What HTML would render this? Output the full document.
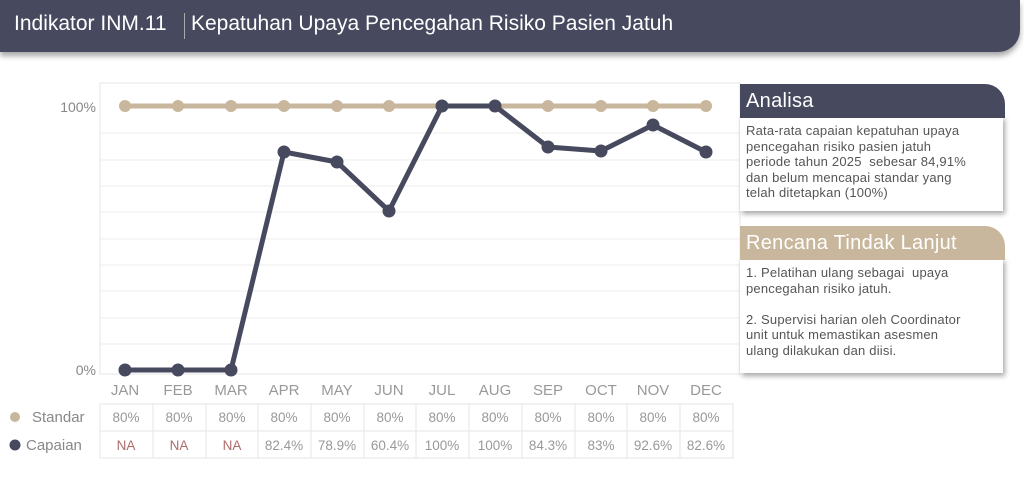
<!DOCTYPE html>
<html><head><meta charset="utf-8"><style>
body{margin:0;width:1024px;height:480px;background:#fff;position:relative;overflow:hidden;font-family:"Liberation Sans",sans-serif}
.hdr{position:absolute;left:0;top:0;width:1020px;height:52px;background:#474a5f;border-bottom-right-radius:22px;box-shadow:0 4px 6px rgba(0,0,0,.35)}
.hdr span{position:absolute;top:12px;color:#fff;font-size:21px}
.ph{position:absolute;left:740px;width:265px;height:34px;border-top-right-radius:20px;color:#fff;font-size:20px;box-sizing:border-box;padding:6px 0 0 6px;letter-spacing:.3px}
.pb{position:absolute;left:740px;width:263px;background:#fff;box-shadow:2px 3px 5px rgba(0,0,0,.35);box-sizing:border-box;padding:7px 6px;font-size:13px;color:#555;line-height:15.5px;letter-spacing:.2px;white-space:nowrap}
</style></head><body>
<div class="hdr"><span style="left:14px">Indikator INM.11</span><div style="position:absolute;left:184px;top:13px;width:1px;height:26px;background:#aaa"></div><span style="left:191px">Kepatuhan Upaya Pencegahan Risiko Pasien Jatuh</span></div>
<svg width="1024" height="480" style="position:absolute;left:0;top:0">
<rect x="100" y="83" width="640" height="291" fill="#fff" stroke="#e4e4e4"/>
<g stroke="#ececec">
<line x1="100" y1="133" x2="740" y2="133"/><line x1="100" y1="160" x2="740" y2="160"/><line x1="100" y1="186" x2="740" y2="186"/><line x1="100" y1="212" x2="740" y2="212"/><line x1="100" y1="239" x2="740" y2="239"/><line x1="100" y1="265" x2="740" y2="265"/><line x1="100" y1="291" x2="740" y2="291"/><line x1="100" y1="318" x2="740" y2="318"/><line x1="100" y1="344" x2="740" y2="344"/>
</g>
<g font-size="14" fill="#888" text-anchor="end"><text x="96" y="112">100%</text><text x="96" y="375">0%</text></g>
<polyline points="125,106 706,106" stroke="#c8b79c" stroke-width="5" fill="none"/>
<g fill="#c8b79c"><circle cx="125" cy="106" r="6"/><circle cx="178" cy="106" r="6"/><circle cx="231" cy="106" r="6"/><circle cx="284" cy="106" r="6"/><circle cx="337" cy="106" r="6"/><circle cx="389" cy="106" r="6"/><circle cx="495" cy="106" r="6"/><circle cx="548" cy="106" r="6"/><circle cx="601" cy="106" r="6"/><circle cx="653" cy="106" r="6"/><circle cx="706" cy="106" r="6"/></g>
<polyline points="125,370 178,370 231,370 284,152 337,162 389,211 442,106 495,106 548,147 601,151 653,125 706,152" stroke="#474a5f" stroke-width="5" fill="none" stroke-linejoin="round"/>
<g fill="#474a5f"><circle cx="125" cy="370" r="6.5"/><circle cx="178" cy="370" r="6.5"/><circle cx="231" cy="370" r="6.5"/><circle cx="284" cy="152" r="6.5"/><circle cx="337" cy="162" r="6.5"/><circle cx="389" cy="211" r="6.5"/><circle cx="442" cy="106" r="6.5"/><circle cx="495" cy="106" r="6.5"/><circle cx="548" cy="147" r="6.5"/><circle cx="601" cy="151" r="6.5"/><circle cx="653" cy="125" r="6.5"/><circle cx="706" cy="152" r="6.5"/></g>
<g font-size="15" fill="#999" text-anchor="middle">
<text x="125" y="395">JAN</text><text x="178" y="395">FEB</text><text x="231" y="395">MAR</text><text x="284" y="395">APR</text><text x="337" y="395">MAY</text><text x="389" y="395">JUN</text><text x="442" y="395">JUL</text><text x="495" y="395">AUG</text><text x="548" y="395">SEP</text><text x="601" y="395">OCT</text><text x="653" y="395">NOV</text><text x="706" y="395">DEC</text>
</g>
<g stroke="#e6e6e6" fill="none"><rect x="100" y="404" width="633" height="54"/><line x1="100" y1="431" x2="733" y2="431"/>
<line x1="153" y1="404" x2="153" y2="458"/><line x1="206" y1="404" x2="206" y2="458"/><line x1="258" y1="404" x2="258" y2="458"/><line x1="311" y1="404" x2="311" y2="458"/><line x1="364" y1="404" x2="364" y2="458"/><line x1="416" y1="404" x2="416" y2="458"/><line x1="469" y1="404" x2="469" y2="458"/><line x1="522" y1="404" x2="522" y2="458"/><line x1="575" y1="404" x2="575" y2="458"/><line x1="627" y1="404" x2="627" y2="458"/><line x1="680" y1="404" x2="680" y2="458"/></g>
<circle cx="15" cy="417" r="5" fill="#c8b79c"/><circle cx="15" cy="445" r="5.5" fill="#474a5f"/>
<g font-size="15" fill="#888"><text x="32" y="422">Standar</text><text x="26" y="450">Capaian</text></g>
<g font-size="13.5" fill="#999" text-anchor="middle">
<text x="126" y="422">80%</text><text x="179" y="422">80%</text><text x="232" y="422">80%</text><text x="284" y="422">80%</text><text x="337" y="422">80%</text><text x="390" y="422">80%</text><text x="442" y="422">80%</text><text x="495" y="422">80%</text><text x="548" y="422">80%</text><text x="601" y="422">80%</text><text x="653" y="422">80%</text><text x="706" y="422">80%</text>
<g fill="#b06b6b"><text x="126" y="450">NA</text><text x="179" y="450">NA</text><text x="232" y="450">NA</text></g>
<text x="284" y="450">82.4%</text><text x="337" y="450">78.9%</text><text x="390" y="450">60.4%</text><text x="442" y="450">100%</text><text x="495" y="450">100%</text><text x="548" y="450">84.3%</text><text x="601" y="450">83%</text><text x="653" y="450">92.6%</text><text x="706" y="450">82.6%</text>
</g>
</svg>
<div class="pb" style="top:116px;height:95px">Rata-rata capaian kepatuhan upaya<br>pencegahan risiko pasien jatuh<br>periode tahun 2025&nbsp; sebesar 84,91%<br>dan belum mencapai standar yang<br>telah ditetapkan (100%)</div>
<div class="ph" style="top:84px;background:#474a5f">Analisa</div>
<div class="pb" style="top:258px;height:115px">1. Pelatihan ulang sebagai&nbsp; upaya<br>pencegahan risiko jatuh.<br><br>2. Supervisi harian oleh Coordinator<br>unit untuk memastikan asesmen<br>ulang dilakukan dan diisi.</div>
<div class="ph" style="top:226px;background:#c8b79c">Rencana Tindak Lanjut</div>
</body></html>
